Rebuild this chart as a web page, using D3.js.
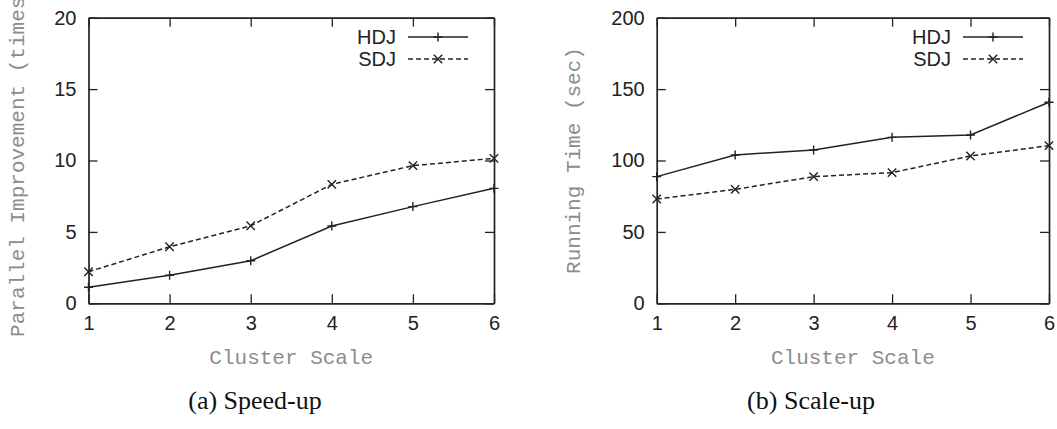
<!DOCTYPE html>
<html>
<head>
<meta charset="utf-8">
<script src="https://cdn.jsdelivr.net/npm/d3@7"></script>
<style>
  body { margin: 0; background: #fff; }
  svg { display: block; }
</style>
</head>
<body>
<div id="wrapper"></div>
<script>
// cluster scale (x)
const clusterScale = [1, 2, 3, 4, 5, 6];

// (a) speed-up
const speedHDJ = [1.12, 1.96, 2.98, 5.41, 6.77, 8.05];
const speedSDJ = [2.21, 3.96, 5.43, 8.33, 9.64, 10.15];
const speedTicks = [0, 5, 10, 15, 20];

// (b) scale-up
const scaleHDJ = [88.7, 103.9, 107.4, 116.2, 117.9, 140.8];
const scaleSDJ = [73.0, 79.8, 88.7, 91.5, 103.2, 110.4];
const scaleTicks = [0, 50, 100, 150, 200];

const seriesNames = ["HDJ", "SDJ"];

const width = 1057, height = 429;
const svg = d3.select("#wrapper").append("svg")
    .attr("width", width).attr("height", height);

function buildPlot(opt){
    const g = svg.append("g");
    const x = d3.scaleLinear().domain([1, 6]).range([opt.left, opt.right]);
    const y = d3.scaleLinear().domain([0, d3.max(opt.yTicks)]).range([303.3, 17.7]);
    const tick = 9;

    // axes (gnuplot style: inward ticks, mirrored)
    const xBottom = d3.axisBottom(x).tickValues(clusterScale).tickFormat(d3.format("d"))
        .tickSizeInner(-tick).tickSizeOuter(0).tickPadding(13);
    const xTop = d3.axisTop(x).tickValues(clusterScale).tickSizeInner(-tick).tickSizeOuter(0).tickFormat("");
    const yLeft = d3.axisLeft(y).tickValues(opt.yTicks).tickFormat(d3.format("d"))
        .tickSizeInner(-tick).tickSizeOuter(0).tickPadding(12);
    const yRight = d3.axisRight(y).tickValues(opt.yTicks).tickSizeInner(-tick).tickSizeOuter(0).tickFormat("");

    const axes = [
        g.append("g").attr("transform", `translate(0,${y(0)})`).call(xBottom),
        g.append("g").attr("transform", `translate(0,${y.range()[1]})`).call(xTop),
        g.append("g").attr("transform", `translate(${x(1)},0)`).call(yLeft),
        g.append("g").attr("transform", `translate(${x(6)},0)`).call(yRight)
    ];
    axes.forEach(a => {
        a.select(".domain").attr("stroke", "#222").attr("stroke-width", 1.7);
        a.selectAll(".tick line").attr("stroke", "#222").attr("stroke-width", 1.3);
        a.selectAll(".tick text")
            .attr("fill", "#222")
            .style("font-family", "'Liberation Sans', Arial, sans-serif")
            .style("font-size", "20px");
    });

    const line = d3.line().x((d, i) => x(clusterScale[i])).y(d => y(d));

    const styles = [
        {dash: null, marker: "plus"},
        {dash: "5,3", marker: "cross"}
    ];

    function marker(sel, kind, cx, cy){
        const s = kind === "plus" ? 4.5 : 4.2;
        const p = kind === "plus"
            ? `M${cx - s},${cy}H${cx + s}M${cx},${cy - s}V${cy + s}`
            : `M${cx - s},${cy - s}L${cx + s},${cy + s}M${cx - s},${cy + s}L${cx + s},${cy - s}`;
        sel.append("path").attr("d", p).attr("stroke", "#222").attr("stroke-width", 1.4).attr("fill", "none");
    }

    [opt.hdj, opt.sdj].forEach((vals, k) => {
        g.append("path")
            .attr("d", line(vals))
            .attr("fill", "none")
            .attr("stroke", "#222")
            .attr("stroke-width", 1.5)
            .attr("stroke-dasharray", styles[k].dash);
        vals.forEach((v, i) => marker(g, styles[k].marker, x(clusterScale[i]), y(v)));

        // legend
        const ly = 37 + k * 22;
        const lx1 = opt.right - 86, lx2 = opt.right - 26;
        g.append("text")
            .attr("x", lx1 - 12).attr("y", ly)
            .attr("dy", "0.35em")
            .attr("text-anchor", "end")
            .attr("fill", "#222")
            .style("font-family", "'Liberation Sans', Arial, sans-serif")
            .style("font-size", "20px")
            .text(seriesNames[k]);
        g.append("line")
            .attr("x1", lx1).attr("x2", lx2).attr("y1", ly).attr("y2", ly)
            .attr("stroke", "#222").attr("stroke-width", 1.5)
            .attr("stroke-dasharray", styles[k].dash);
        marker(g, styles[k].marker, (lx1 + lx2) / 2, ly);
    });

    // axis titles
    g.append("text")
        .attr("x", (opt.left + opt.right) / 2)
        .attr("y", 357)
        .attr("dy", "0.35em")
        .attr("text-anchor", "middle")
        .attr("fill", "#8c8c8c")
        .style("font-family", "'Liberation Mono', 'DejaVu Sans Mono', monospace")
        .style("font-size", "21px")
        .text("Cluster Scale");

    g.append("text")
        .attr("transform", `translate(${opt.yTitleX},${(y.range()[0] + y.range()[1]) / 2}) rotate(-90)`)
        .attr("dy", "0.35em")
        .attr("text-anchor", "middle")
        .attr("fill", "#8c8c8c")
        .style("font-family", "'Liberation Mono', 'DejaVu Sans Mono', monospace")
        .style("font-size", "21px")
        .text(opt.yTitle);

    // caption
    g.append("text")
        .attr("x", opt.captionX)
        .attr("y", 400)
        .attr("dy", "0.35em")
        .attr("text-anchor", "middle")
        .attr("fill", "#111")
        .style("font-family", "'Liberation Serif', 'Times New Roman', serif")
        .style("font-size", "26px")
        .text(opt.caption);
}

buildPlot({
    left: 88.5, right: 494,
    yTicks: speedTicks,
    hdj: speedHDJ, sdj: speedSDJ,
    yTitle: "Parallel Improvement (times)", yTitleX: 17,
    caption: "(a) Speed-up", captionX: 255
});

buildPlot({
    left: 656.7, right: 1049,
    yTicks: scaleTicks,
    hdj: scaleHDJ, sdj: scaleSDJ,
    yTitle: "Running Time (sec)", yTitleX: 573,
    caption: "(b) Scale-up", captionX: 811
});
</script>
</body>
</html>
